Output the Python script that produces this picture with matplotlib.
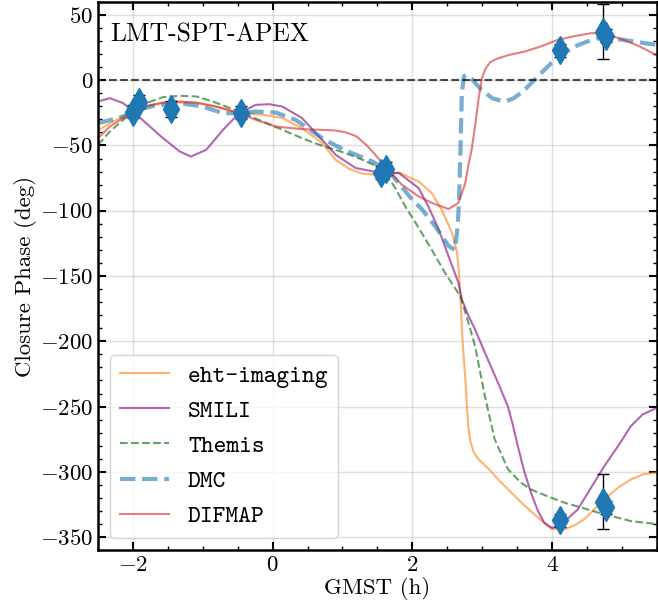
import numpy as np
import matplotlib
matplotlib.use("Agg")
import matplotlib.pyplot as plt
from matplotlib.ticker import MultipleLocator

plt.rcParams['font.family'] = 'cmr10'
plt.rcParams['mathtext.fontset'] = 'cm'
plt.rcParams['axes.formatter.use_mathtext'] = True
plt.rcParams['axes.unicode_minus'] = True

# closure phase data (GMST in h, phase in deg)
obs_t = [-2.00, -1.92, -1.46, -0.45, 1.55, 1.62, 4.12, 4.73, 4.78, 4.12, 4.73, 4.78]
obs_cp = [-24, -16.5, -22, -25, -71, -68, 23, 37, 34, -337, -323, -327]
obs_err = [5, 5, 6, 5, 5, 5, 5, 21, 5, 5, 21, 5]

# model curves
eht_t = [-2.5, -2.33, -2.14, -2.0, -1.81, -1.57, -1.33, -1.09, -0.81, -0.48, -0.145, 0.14,
         0.42, 0.71, 0.90, 1.1, 1.29, 1.52, 1.81, 2.09, 2.28, 2.42, 2.57, 2.64, 2.67, 2.69,
         2.72, 2.76, 2.80, 2.83, 2.88, 2.95, 3.1, 3.23, 3.42, 3.61, 3.8, 3.99, 4.18, 4.32,
         4.46, 4.6, 4.75, 4.95, 5.13, 5.3, 5.5]
eht_cp = [-38.5, -33, -27.8, -24, -20.2, -17.6, -17.1, -17.6, -20.2, -24.8, -26.5, -29,
          -36.7, -48.2, -61, -68, -71.7, -72.5, -70.7, -77.6, -86.5, -99.2, -117, -132, -147.7, -167,
          -200, -229, -265, -276, -285, -290.5, -298, -305.8, -316, -326, -335, -343.5, -344, -341,
          -336.4, -329, -321, -312, -305.8, -302, -300.5]

smili_t = [-2.5, -2.33, -2.14, -2.0, -1.81, -1.57, -1.33, -1.17, -0.95, -0.71, -0.48, -0.24,
           -0.05, 0.14, 0.42, 0.71, 0.90, 1.19, 1.52, 1.81, 2.09, 2.23, 2.38, 2.52, 2.66, 2.71,
           2.80, 2.90, 3.05, 3.23, 3.37, 3.44, 3.51, 3.60, 3.70, 3.80, 3.89, 4.0, 4.08, 4.2,
           4.37, 4.55, 4.75, 4.95, 5.13, 5.3, 5.5]
smili_cp = [-16.3, -13.8, -17.6, -24, -33, -44.4, -54.6, -58.5, -53.3, -38, -25.3, -18.9,
            -18.4, -20.2, -29, -45.7, -57, -67.3, -70.7, -71.2, -82.6, -96.7, -114.5, -135, -155, -168,
            -180, -191, -210, -232, -250, -264, -280, -299, -316, -330, -339, -343, -341.5, -337,
            -328.8, -313, -295.6, -280, -265, -256, -251]

themis_t = [-2.5, -2.33, -2.14, -2.0, -1.81, -1.57, -1.33, -1.09, -0.86, -0.48, -0.145, 0.14,
            0.42, 0.71, 0.90, 1.1, 1.29, 1.45, 1.62, 1.75, 1.90, 2.09, 2.28, 2.47, 2.69, 2.80,
            2.90, 3.04, 3.18, 3.37, 3.55, 3.70, 3.95, 4.18, 4.4, 4.65, 4.9, 5.13, 5.5]
themis_cp = [-49.5, -39.3, -30.4, -25, -17.6, -13, -12, -12.5, -16.3, -24, -31.6, -38,
             -44.4, -50.3, -53.3, -57, -61, -65, -72, -82, -96.7, -113, -130, -147.7, -165.6, -185,
             -204, -242, -275, -298, -308, -313.5, -319, -323.6, -327, -331, -334.5, -337.7, -340]

dmc_t = [-2.5, -2.33, -2.14, -2.0, -1.71, -1.33, -1.0, -0.71, -0.48, -0.24, 0.045, 0.33,
         0.71, 0.90, 1.05, 1.43, 1.67, 2.0, 2.14, 2.33, 2.52, 2.61, 2.65, 2.67, 2.69, 2.71,
         2.74, 2.78, 2.85, 2.99, 3.15, 3.32, 3.45, 3.61, 3.8, 3.99, 4.15, 4.32, 4.5, 4.65,
         4.85, 5.03, 5.25, 5.5]
dmc_cp = [-33, -30.6, -27.8, -24, -19.7, -17.6, -20.2, -25.3, -25.3, -24, -24.8, -30.4,
          -44.4, -50, -54, -62.3, -70, -91.6, -99, -112, -127, -130, -112, -91.6, -53.3, -10,
          3, 4, 1, -7.4, -14, -16.4, -14, -7.4, 3, 13, 20, 25.7, 29.5, 32,
          32, 30.8, 29, 27]

difmap_t = [-2.5, -2.33, -2.14, -2.0, -1.81, -1.57, -1.33, -1.09, -0.81, -0.48, -0.24, 0.045,
            0.42, 0.90, 1.05, 1.2, 1.35, 1.5, 1.67, 1.85, 2.09, 2.28, 2.52, 2.66, 2.76, 2.80,
            2.85, 2.90, 2.95, 3.0, 3.05, 3.12, 3.23, 3.4, 3.61, 3.85, 4.08, 4.3, 4.56, 4.75,
            5.03, 5.25, 5.5]
difmap_cp = [-44.4, -35.5, -29, -24, -19.7, -17.1, -16.3, -17.1, -20.2, -25.3, -30.4, -35.5,
             -37.5, -38.5, -40, -43, -50, -59, -70, -80, -89, -94, -98.7, -94, -78.8, -66,
             -53.3, -35, -14, 2, 9, 14, 16.8, 19.5, 21.9, 26, 30.8, 33.5, 36, 36,
             30.8, 26, 19]

fig = plt.figure(figsize=(6.58, 6.12), dpi=100)
ax = fig.add_axes([0.149, 0.101, 0.849, 0.896])

ax.plot(eht_t, eht_cp, color='tab:orange', alpha=0.6, lw=1.5, label='eht-imaging')
ax.plot(smili_t, smili_cp, color='purple', alpha=0.6, lw=1.5, label='SMILI')
ax.plot(themis_t, themis_cp, color='darkgreen', alpha=0.6, lw=1.5, ls='--', label='Themis')
ax.plot(dmc_t, dmc_cp, color='tab:blue', alpha=0.6, lw=3, ls='--', label='DMC')
ax.plot(difmap_t, difmap_cp, color='tab:red', alpha=0.6, lw=1.5, label='DIFMAP')

ax.axhline(0, color='k', ls='--', lw=1.5, alpha=0.7)
ax.errorbar(obs_t, obs_cp, yerr=obs_err, fmt='d', color='tab:blue', ms=14,
            ecolor='k', elinewidth=1, capsize=4, zorder=5)

ax.set_xlim(-2.5, 5.5)
ax.set_ylim(-360, 60)
ax.xaxis.set_major_locator(MultipleLocator(2))
ax.xaxis.set_minor_locator(MultipleLocator(0.5))
ax.yaxis.set_major_locator(MultipleLocator(50))
ax.yaxis.set_minor_locator(MultipleLocator(10))
ax.tick_params(which='both', direction='in', top=True, right=True, labelsize=16.5)
ax.tick_params(which='major', length=6, width=1.5)
ax.tick_params(which='minor', length=3, width=1)
for s in ax.spines.values():
    s.set_linewidth(1.8)
ax.grid(True, which='major', color='gray', alpha=0.25, lw=1)

ax.set_xlabel('GMST (h)', fontsize=16.5, labelpad=2)
ax.set_ylabel('Closure Phase (deg)', fontsize=16.5, labelpad=2)
ax.text(0.022, 0.927, 'LMT-SPT-APEX', transform=ax.transAxes, fontsize=18.5, va='baseline')

ax.legend(loc='lower left', prop={'family': 'cmtt10', 'size': 17.5}, framealpha=0.8)

fig.savefig('out.png', dpi=100)
